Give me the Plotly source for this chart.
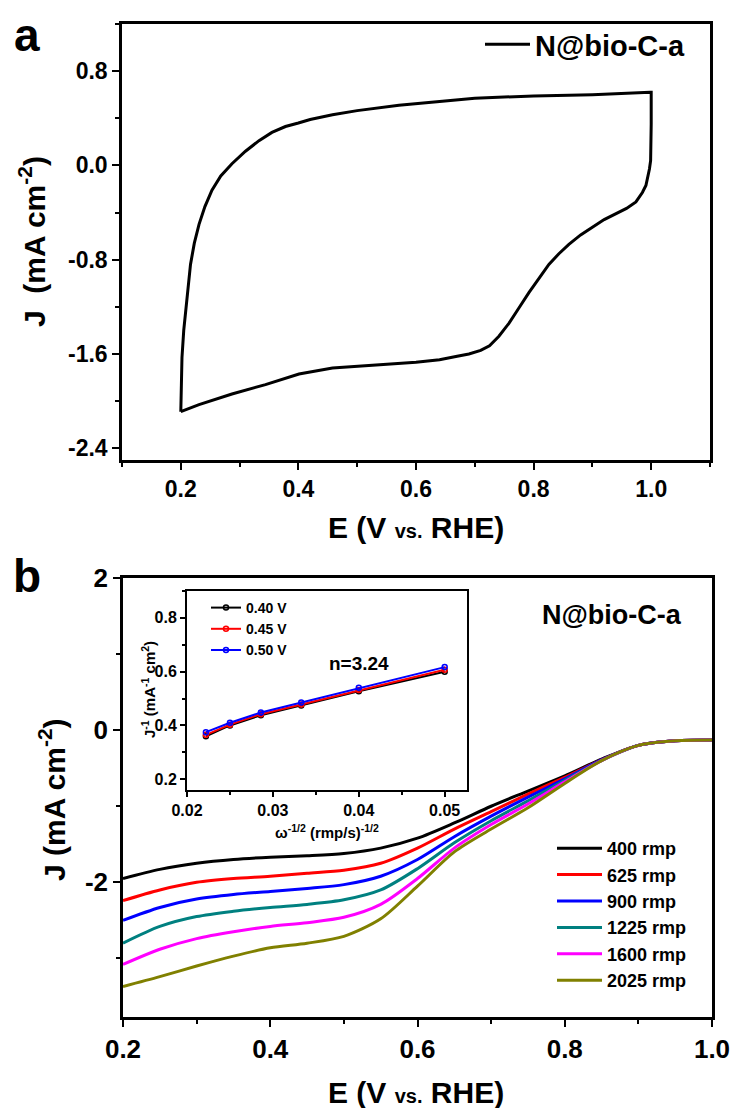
import plotly.graph_objects as go

# ---------------- data ----------------
# (a) cyclic voltammogram of N@bio-C-a: anodic (upper) branch then cathodic (lower) branch
cv_E_anodic = [0.200, 0.201, 0.202, 0.205, 0.209, 0.2125, 0.2165, 0.223, 0.231, 0.241,
               0.253, 0.268, 0.287, 0.310, 0.333, 0.355, 0.378, 0.400, 0.420, 0.458,
               0.500, 0.571, 0.650, 0.700, 0.800, 0.900, 0.998]
cv_J_anodic = [-2.09, -1.85, -1.63, -1.40, -1.21, -1.02, -0.84, -0.66, -0.50, -0.35,
               -0.21, -0.09, 0.014, 0.12, 0.21, 0.28, 0.33, 0.36, 0.39, 0.43,
               0.465, 0.51, 0.55, 0.57, 0.59, 0.60, 0.62]
cv_E_cathodic = [1.000, 1.000, 1.000, 0.999, 0.997, 0.994, 0.991, 0.985, 0.974, 0.958,
                 0.940, 0.920, 0.900, 0.880, 0.860, 0.843, 0.826, 0.810, 0.792, 0.775,
                 0.758, 0.741, 0.725, 0.710, 0.690, 0.670, 0.640, 0.600, 0.571, 0.520,
                 0.458, 0.401, 0.344, 0.287, 0.231, 0.200]
cv_J_cathodic = [0.62, 0.35, 0.10, 0.04, -0.03, -0.10, -0.17, -0.23, -0.31, -0.365,
                 -0.41, -0.46, -0.525, -0.59, -0.67, -0.75, -0.84, -0.95, -1.08, -1.21,
                 -1.34, -1.45, -1.53, -1.57, -1.60, -1.62, -1.65, -1.67, -1.68, -1.70,
                 -1.72, -1.77, -1.86, -1.94, -2.03, -2.09]

# (b) LSV curves at different rotation rates
lsv_E = [0.20, 0.25, 0.30, 0.35, 0.40, 0.45, 0.50, 0.55, 0.60, 0.65,
         0.70, 0.75, 0.80, 0.85, 0.90, 0.95, 1.00]
lsv_names = ["400 rmp", "625 rmp", "900 rmp", "1225 rmp", "1600 rmp", "2025 rmp"]
lsv_colors = ["#000000", "#FF0000", "#0000FF", "#008080", "#FF00FF", "#808000"]
lsv_J = [
    [-1.95, -1.83, -1.75, -1.70, -1.67, -1.65, -1.62, -1.55, -1.42, -1.22,
     -1.00, -0.80, -0.60, -0.38, -0.20, -0.14, -0.13],
    [-2.24, -2.10, -2.00, -1.95, -1.92, -1.88, -1.84, -1.75, -1.55, -1.30,
     -1.07, -0.84, -0.62, -0.39, -0.20, -0.14, -0.13],
    [-2.50, -2.33, -2.22, -2.16, -2.12, -2.08, -2.03, -1.92, -1.70, -1.40,
     -1.13, -0.88, -0.64, -0.39, -0.20, -0.14, -0.13],
    [-2.80, -2.58, -2.45, -2.38, -2.33, -2.29, -2.23, -2.10, -1.82, -1.48,
     -1.19, -0.93, -0.66, -0.40, -0.20, -0.14, -0.13],
    [-3.08, -2.88, -2.74, -2.65, -2.58, -2.53, -2.46, -2.29, -1.95, -1.55,
     -1.24, -0.97, -0.68, -0.40, -0.20, -0.14, -0.13],
    [-3.37, -3.24, -3.10, -2.97, -2.86, -2.80, -2.71, -2.48, -2.05, -1.60,
     -1.30, -1.02, -0.70, -0.40, -0.20, -0.14, -0.13],
]

# inset: Koutecky-Levich plots
kl_x = [0.0222, 0.0250, 0.0286, 0.0333, 0.0400, 0.0500]
kl_names = ["0.40 V", "0.45 V", "0.50 V"]
kl_colors = ["#000000", "#FF0000", "#0000FF"]
kl_y = [
    [0.360, 0.400, 0.438, 0.474, 0.527, 0.600],
    [0.365, 0.403, 0.442, 0.478, 0.532, 0.607],
    [0.375, 0.410, 0.448, 0.485, 0.540, 0.617],
]

# tick labels
cv_yticks = [-2.4, -1.6, -0.8, 0.0, 0.8]
cv_yticktext = ["-2.4", "-1.6", "-0.8", "0.0", "0.8"]
lsv_yticks = [-2, 0, 2]
lsv_yticktext = ["-2", "0", "2"]

# ---------------- layout helpers ----------------
W, H = 735, 1108
FONT = "Liberation Sans, Arial, Helvetica, sans-serif"


def fx(p):
    return p / W


def fy(p):
    return 1 - p / H


fig = go.Figure()

fig.add_trace(go.Scatter(
    x=cv_E_anodic + cv_E_cathodic, y=cv_J_anodic + cv_J_cathodic,
    mode="lines", name="N@bio-C-a", line=dict(color="black", width=3),
    xaxis="x", yaxis="y", legend="legend"))

for name, col, ys in zip(lsv_names, lsv_colors, lsv_J):
    fig.add_trace(go.Scatter(
        x=lsv_E, y=ys, mode="lines", name=name,
        line=dict(color=col, width=3, shape="spline", smoothing=0.8),
        xaxis="x2", yaxis="y2", legend="legend2"))

for name, col, ys in zip(kl_names, kl_colors, kl_y):
    fig.add_trace(go.Scatter(
        x=kl_x, y=ys, mode="lines+markers", name=name,
        line=dict(color=col, width=2),
        marker=dict(symbol="circle-open", size=5, color=col, line=dict(width=1.5)),
        xaxis="x3", yaxis="y3", legend="legend3"))


def axis(rng, dom, anchor, dtick, tick0, mdtick, mtick0, fmt, size,
         lw=2.5, tl=7, mtl=4, tickvals=None, ticktext=None):
    d = dict(range=rng, domain=dom, anchor=anchor, showline=True, linecolor="black",
             linewidth=lw, mirror=True, ticks="outside", ticklen=tl, tickwidth=2,
             tickcolor="black", tickformat=fmt, automargin=False,
             minor=dict(tickmode="linear", tick0=mtick0, dtick=mdtick, ticks="outside",
                        ticklen=mtl, tickwidth=2, tickcolor="black", showgrid=False),
             showgrid=False, zeroline=False,
             tickfont=dict(family=FONT, size=size, color="black", weight="bold"))
    if tickvals is not None:
        d.update(tickmode="array", tickvals=tickvals, ticktext=ticktext)
    else:
        d.update(tickmode="linear", dtick=dtick, tick0=tick0)
    return d


fig.update_layout(
    template="none",
    width=W, height=H, margin=dict(l=0, r=0, t=0, b=0, autoexpand=False),
    paper_bgcolor="white", plot_bgcolor="white",
    font=dict(family=FONT, color="black", weight="bold"),
    xaxis=axis([0.1, 1.1], [fx(122), fx(710)], "y", 0.2, 0.2, 0.1, 0.1, ".1f", 23),
    yaxis=axis([-2.5, 1.2], [fy(460), fy(24)], "x", None, None, 0.4, 0, None, 23,
               tickvals=cv_yticks, ticktext=cv_yticktext),
    xaxis2=axis([0.2, 1.0], [fx(123), fx(712)], "y2", 0.2, 0.2, 0.1, 0.1, ".1f", 26),
    yaxis2=axis([-3.77, 2.0], [fy(1017), fy(578)], "x2", None, None, 1, 1, None, 26,
                tickvals=lsv_yticks, ticktext=lsv_yticktext),
    xaxis3=axis([0.02, 0.0526], [fx(187), fx(467)], "y3", 0.01, 0.02, 0.005, 0.02, ".2f", 16,
                lw=2, tl=5, mtl=3),
    yaxis3=axis([0.16, 0.9], [fy(790), fy(591)], "x3", 0.2, 0.2, 0.1, 0.2, ".1f", 16,
                lw=2, tl=5, mtl=3),
    showlegend=True,
    legend=dict(x=fx(480), y=fy(19), xanchor="left", yanchor="top", itemwidth=45,
                bgcolor="rgba(0,0,0,0)", font=dict(family=FONT, size=29, weight="bold")),
    legend2=dict(x=fx(552), y=fy(830), xanchor="left", yanchor="top", tracegroupgap=0,
                 itemwidth=45,
                 bgcolor="rgba(0,0,0,0)", font=dict(family=FONT, size=18, weight="bold")),
    legend3=dict(x=fx(206), y=fy(592), xanchor="left", yanchor="top", tracegroupgap=0,
                 bgcolor="rgba(0,0,0,0)", font=dict(family=FONT, size=14, weight="bold")),
)

vs_top = "E (V <span style='font-size:20px'>vs.</span> RHE)"
ann = [
    dict(text="a", x=fx(27), y=fy(35), size=46),
    dict(text="b", x=fx(27), y=fy(576), size=46),
    dict(text=vs_top, x=fx(416), y=fy(527), size=30),
    dict(text=vs_top, x=fx(416), y=fy(1092), size=30),
    dict(text="J  (mA cm<sup>-2</sup>)", x=fx(32), y=fy(242), size=30, angle=-90),
    dict(text="J (mA cm<sup>-2</sup>)", x=fx(52), y=fy(800), size=30, angle=-90),
    dict(text="N@bio-C-a", x=fx(612), y=fy(615), size=27),
    dict(text="n=3.24", x=fx(359), y=fy(663), size=19),
    dict(text="ω<sup>-1/2</sup> (rmp/s)<sup>-1/2</sup>", x=fx(327), y=fy(831), size=15),
    dict(text="J<sup>-1</sup> (mA<sup>-1</sup> cm<sup>2</sup>)", x=fx(148), y=fy(690), size=15,
         angle=-90),
]
for a in ann:
    fig.add_annotation(text=a["text"], x=a["x"], y=a["y"], xref="paper", yref="paper",
                       showarrow=False, xanchor="center", yanchor="middle",
                       textangle=a.get("angle", 0),
                       font=dict(family=FONT, size=a["size"], color="black", weight="bold"))

fig.write_html("out.html")
